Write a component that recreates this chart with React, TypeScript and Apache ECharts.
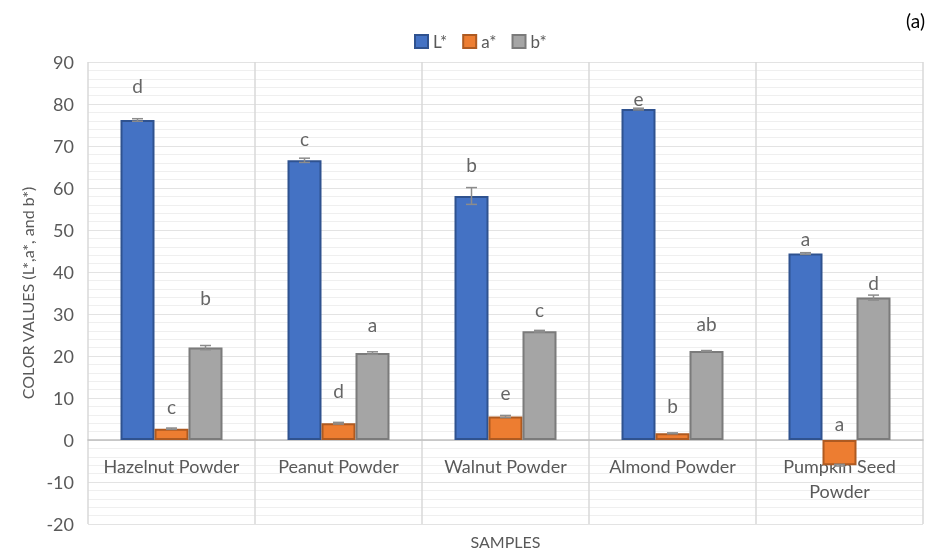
import React, { useEffect, useRef } from "react";
import * as echarts from "echarts";

const categories = ["Hazelnut Powder", "Peanut Powder", "Walnut Powder", "Almond Powder", "Pumpkin Seed\nPowder"];
const seriesNames = ["L*", "a*", "b*"];
const lValues = [76.2, 66.6, 58.1, 78.8, 44.4];
const aValues = [2.7, 4.0, 5.6, 1.6, -6.0];
const bValues = [22.0, 20.7, 25.9, 21.2, 33.9];
const lErrors = [0.3, 0.5, 2.0, 0.2, 0.2];
const aErrors = [0.15, 0.2, 0.25, 0.1, 0.2];
const bErrors = [0.5, 0.3, 0.2, 0.1, 0.6];
const lLetters = ["d", "c", "b", "e", "a"];
const aLetters = ["c", "d", "e", "b", "a"];
const bLetters = ["b", "a", "c", "ab", "d"];
const lLetterY = [84.5, 71.9, 65.7, 81.4, 47.9];
const aLetterY = [7.9, 11.7, 11.2, 8.3, 4.0];
const bLetterY = [34.0, 27.6, 31.0, 27.8, 37.6];
const yTicks = { min: -20, max: 90, interval: 10 };

const FONT = "Lato, 'Open Sans', sans-serif";
const BAR_W = 34;
const fills = ["#4472C4", "#ED7D31", "#A5A5A5"];
const borders = ["#2F528F", "#AE5A21", "#7B7B7B"];

export default function App() {
  const ref = useRef<HTMLDivElement>(null);
  useEffect(() => {
    if (!ref.current) return;
    const chart = echarts.init(ref.current, null, { renderer: "svg" });
    const values = [lValues, aValues, bValues];
    const errors = [lErrors, aErrors, bErrors];
    const letters = [lLetters, aLetters, bLetters];
    const letterY = [lLetterY, aLetterY, bLetterY];
    const offsets = [-BAR_W, 0, BAR_W];

    const barSeries = seriesNames.map((name, i) => ({
      name,
      type: "bar",
      barWidth: BAR_W,
      barGap: "0%",
      data: values[i],
      itemStyle: { color: fills[i], borderColor: borders[i], borderWidth: 2 },
      z: 2,
    }));

    const errSeries = seriesNames.map((name, i) => ({
      name: name + " err",
      type: "custom",
      z: 5,
      silent: true,
      data: values[i].map((v, k) => [k, v - errors[i][k], v + errors[i][k]]),
      renderItem: (params: any, api: any) => {
        const c = api.value(0);
        const lo = api.coord([c, api.value(1)]);
        const hi = api.coord([c, api.value(2)]);
        const x = lo[0] + offsets[i];
        const style = { stroke: "#8C8C8C", lineWidth: 1.5 };
        return {
          type: "group",
          children: [
            { type: "line", shape: { x1: x, y1: lo[1], x2: x, y2: hi[1] }, style },
            { type: "line", shape: { x1: x - 5.5, y1: lo[1], x2: x + 5.5, y2: lo[1] }, style },
            { type: "line", shape: { x1: x - 5.5, y1: hi[1], x2: x + 5.5, y2: hi[1] }, style },
          ],
        };
      },
    }));

    const letterSeries = seriesNames.map((name, i) => ({
      name: name + " letters",
      type: "scatter",
      symbolSize: 1,
      itemStyle: { color: "transparent" },
      silent: true,
      z: 6,
      data: letterY[i].map((y, k) => ({
        value: [k, y],
        label: {
          show: true,
          formatter: letters[i][k],
          position: "inside",
          offset: [offsets[i], 0],
          fontSize: 19,
          fontFamily: FONT,
          color: "#404040",
        },
      })),
    }));

    chart.setOption({
      animation: false,
      textStyle: { fontFamily: FONT },
      grid: { left: 88, right: 12, top: 62, bottom: 29, containLabel: false, outerBoundsMode: "none" },
      legend: {
        data: seriesNames,
        top: 33,
        left: 414,
        padding: 0,
        icon: "rect",
        itemWidth: 13,
        itemHeight: 13,
        itemGap: 15,
        textStyle: { fontSize: 17, color: "#595959", fontFamily: FONT },
      },
      graphic: [
        {
          type: "text",
          right: 10,
          top: 11,
          style: { text: "(a)", fontSize: 19, fill: "#000", fontFamily: FONT },
        },
      ],
      xAxis: {
        type: "category",
        data: categories,
        offset: -84,
        axisLine: { onZero: false, lineStyle: { color: "#BFBFBF", width: 1.5 } },
        axisTick: { show: false },
        axisLabel: { margin: 13, fontSize: 18, color: "#595959", lineHeight: 25, fontFamily: FONT, interval: 0 },
        splitLine: { show: true, interval: 0, lineStyle: { color: "#D9D9D9", width: 1.5 } },
        name: "SAMPLES",
        nameLocation: "middle",
        nameGap: 93,
        nameTextStyle: { fontSize: 16, color: "#595959", fontFamily: FONT },
      },
      yAxis: {
        type: "value",
        min: yTicks.min,
        max: yTicks.max,
        interval: yTicks.interval,
        axisLine: { show: false },
        axisTick: { show: false },
        axisLabel: { margin: 14, fontSize: 18, color: "#595959", fontFamily: FONT },
        splitLine: { lineStyle: { color: "#E3E3E3", width: 1 } },
        minorTick: { show: false, splitNumber: 5 },
        minorSplitLine: { show: true, lineStyle: { color: "#EFEFEF", width: 1 } },
        name: "COLOR VALUES (L*,a*, and b*)",
        nameLocation: "middle",
        nameRotate: 90,
        nameGap: 42,
        nameTextStyle: { fontSize: 16, color: "#595959", fontFamily: FONT },
      },
      series: [...barSeries, ...errSeries, ...letterSeries],
    });
    return () => chart.dispose();
  }, []);
  return <div ref={ref} style={{ position: "fixed", left: 0, top: 0, width: 935, height: 553 }} />;
}
